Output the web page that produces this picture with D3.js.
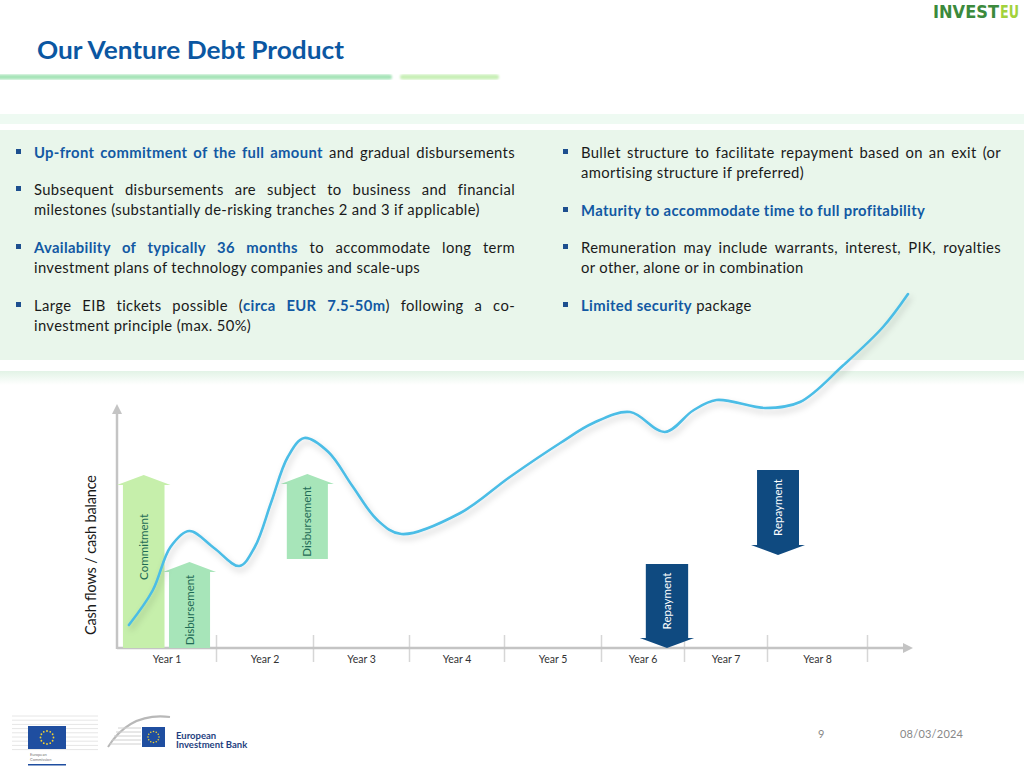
<!DOCTYPE html>
<html><head><meta charset="utf-8">
<script src="https://cdn.jsdelivr.net/npm/d3@7"></script>
<style>html,body{margin:0;padding:0;background:#fff;}svg{display:block;font-family:Lato,"Open Sans",sans-serif;}</style>
</head><body>
<script>
// ---------- data ----------
const title = "Our Venture Debt Product";
const yearLabels = ["Year 1","Year 2","Year 3","Year 4","Year 5","Year 6","Year 7","Year 8"];
const yearBoundaries = [1,2,3,4,5,6,7,8];
const yAxisLabel = "Cash flows / cash balance";

// cash balance curve (x in years, y in arbitrary units)
const curveYears  = [0.12,0.36,0.54,0.73,0.98,1.24,1.40,1.57,1.74,1.91,2.16,2.41,2.67,2.92,3.54,4.06,4.58,4.92,5.35,5.77,6.11,6.39,6.98,7.33,7.76,8.16,8.41];
const curveValues = [9.2, 23,  40.4,46.8,40,  32.8,40.4,58.4,76.4,84,  78.4,64.8,51.2,45.6,54,  68.4,82,  90,  94.4,86.4,95,  99.2,96,  98.4,113, 128.4,141.6];

// cash-flow arrows
const arrowLabels = ["Commitment","Disbursement","Disbursement","Repayment","Repayment"];
const arrowKinds  = ["commit","disb","disb","repay","repay"];
const arrowStart  = [0.06,0.525,1.73,5.54,6.88];
const arrowEnd    = [0.48,0.94,2.155,6.05,7.32];
const arrowFrom   = [0,0,35.6,33.6,71.2];
const arrowTo     = [69.2,34.4,69.6,0,37.2];

// bullet text: each bullet = lines, each line = segments [text, emphasised]
const leftBullets = [
  [[["Up-front commitment of the full amount",1],[" and gradual disbursements",0]]],
  [[["Subsequent disbursements are subject to business and financial",0]],
   [["milestones (substantially de-risking tranches 2 and 3 if applicable)",0]]],
  [[["Availability of typically 36 months",1],[" to accommodate long term",0]],
   [["investment plans of technology companies and scale-ups",0]]],
  [[["Large EIB tickets possible (",0],["circa EUR 7.5-50m",1],[") following a co-",0]],
   [["investment principle (max. 50%)",0]]]
];
const rightBullets = [
  [[["Bullet structure to facilitate repayment based on an exit (or",0]],
   [["amortising structure if preferred)",0]]],
  [[["Maturity to accommodate time to full profitability",1]]],
  [[["Remuneration may include warrants, interest, PIK, royalties",0]],
   [["or other, alone or in combination",0]]],
  [[["Limited security",1],[" package",0]]]
];
const pageNumber = "9";
const dateText = "08/03/2024";

// ---------- layout ----------
const W = 1024, H = 768;
const blue = "#1259a3", textCol = "#1a1a1a";
const svg = d3.select("body").append("svg").attr("width",W).attr("height",H);
const defs = svg.append("defs");
const f = defs.append("filter").attr("id","sh").attr("x","-10%").attr("y","-20%").attr("width","120%").attr("height","150%");
f.append("feDropShadow").attr("dx",2).attr("dy",4).attr("stdDeviation",3).attr("flood-color","#000").attr("flood-opacity",0.2);
const fb = defs.append("filter").attr("id","blur1");
fb.append("feGaussianBlur").attr("stdDeviation",0.8);
const grad = defs.append("linearGradient").attr("id","band2").attr("x1",0).attr("y1",0).attr("x2",0).attr("y2",1);
grad.append("stop").attr("offset","0%").attr("stop-color","#e2f3e6");
grad.append("stop").attr("offset","100%").attr("stop-color","#ffffff");
defs.append("marker").attr("id","axArrow").attr("viewBox","0 0 10 10").attr("refX",5).attr("refY",5)
  .attr("markerWidth",4).attr("markerHeight",4).attr("orient","auto")
  .append("path").attr("d","M0,0L10,5L0,10Z").attr("fill","#c4c4c4");

// header
svg.append("text").attr("x",37).attr("y",59).attr("fill","#0b57a2").attr("font-size",25).attr("font-weight",700)
  .attr("textLength",307).attr("lengthAdjust","spacingAndGlyphs").text(title);
svg.append("rect").attr("x",-5).attr("y",74.5).attr("width",397).attr("height",5).attr("rx",2.5).attr("fill","#a5e3b7").attr("filter","url(#blur1)");
svg.append("rect").attr("x",400).attr("y",74.5).attr("width",99).attr("height",5).attr("rx",2.5).attr("fill","#c8efb6").attr("filter","url(#blur1)");
svg.append("text").attr("x",933).attr("y",18).attr("font-size",17).attr("font-weight",900)
  .attr("font-family","'DejaVu Sans',sans-serif").attr("textLength",66).attr("lengthAdjust","spacingAndGlyphs")
  .attr("fill","#3c8a3c").text("INVEST");
svg.append("text").attr("x",1000).attr("y",18).attr("font-size",17).attr("font-weight",900)
  .attr("font-family","'DejaVu Sans',sans-serif").attr("textLength",19).attr("lengthAdjust","spacingAndGlyphs")
  .attr("fill","#a2d23c").text("EU");

// panels
svg.append("rect").attr("x",0).attr("y",114).attr("width",W).attr("height",10).attr("fill","#eefaf2");
svg.append("rect").attr("x",0).attr("y",130).attr("width",W).attr("height",230).attr("fill","#e9f6eb");
svg.append("rect").attr("x",0).attr("y",371).attr("width",W).attr("height",14).attr("fill","url(#band2)");

// bullets (justified lines are stretched by word spacing)
const leftLayout  = {x:34, bx:16, right:515, baselines:[[158],[195,215],[253,273],[311,331]], just:[[1],[1,0],[1,0],[1,0]]};
const rightLayout = {x:581, bx:563, right:1001, baselines:[[158,178],[216],[253,273],[311]], just:[[1,0],[0],[1,0],[0]]};
function drawBullets(bullets, L){
  bullets.forEach((b,i)=>{
    svg.append("rect").attr("x",L.bx).attr("y",L.baselines[i][0]-9).attr("width",5).attr("height",5).attr("fill","#1d4f8f");
    b.forEach((line,j)=>{
      const t = svg.append("text").attr("x",L.x).attr("y",L.baselines[i][j]).attr("font-size",14.8)
        .attr("letter-spacing",0.35).attr("fill",textCol);
      line.forEach(seg=>{
        t.append("tspan").attr("fill",seg[1]?blue:textCol).attr("font-weight",seg[1]?700:400).text(seg[0]);
      });
      if (L.just[i][j]) {
        const len = t.node().getComputedTextLength();
        const full = line.map(s=>s[0]).join("");
        const spaces = (full.match(/ /g)||[]).length;
        const extra = (L.right - L.x) - len;
        if (spaces>0 && extra>0) t.attr("word-spacing", extra/spaces);
      }
    });
  });
}
drawBullets(leftBullets, leftLayout);
drawBullets(rightBullets, rightLayout);

// ---------- chart ----------
const x = d3.scaleLinear().domain([0,1,2,3,4,5,6,7,8]).range([117,216,313,409,504,601,684,767,867]);
const y = d3.scaleLinear().domain([0,100]).range([648,398]);
const axisCol = "#c4c4c4";

// separators via axis
const sepAxis = d3.axisBottom(x).tickValues(yearBoundaries).tickFormat("").tickSizeOuter(0).tickSize(14);
const gSep = svg.append("g").attr("transform",`translate(0,${y(0)})`).call(sepAxis);
gSep.select(".domain").remove();
gSep.selectAll(".tick line").attr("y1",-13).attr("stroke","#d6d6d6").attr("stroke-width",1.5);

// year labels via axis at interval centers
const centers = yearBoundaries.map(d=>d-0.5);
const labAxis = d3.axisBottom(x).tickValues(centers).tickFormat((d,i)=>yearLabels[i]).tickSize(0).tickPadding(8);
const gLab = svg.append("g").attr("transform",`translate(0,${y(0)})`).call(labAxis);
gLab.select(".domain").remove();
gLab.selectAll("text").attr("font-family","Lato,sans-serif").attr("font-size",10.5).attr("fill","#333");

// axis lines
svg.append("line").attr("x1",x(0)).attr("x2",908).attr("y1",y(0)).attr("y2",y(0))
  .attr("stroke",axisCol).attr("stroke-width",2.5).attr("marker-end","url(#axArrow)");
svg.append("line").attr("x1",x(0)).attr("x2",x(0)).attr("y1",y(0)+1).attr("y2",409)
  .attr("stroke",axisCol).attr("stroke-width",2.5).attr("marker-end","url(#axArrow)");

svg.append("text").attr("transform",`translate(96,555) rotate(-90)`).attr("text-anchor","middle")
  .attr("font-size",14.5).attr("fill",textCol).attr("textLength",160).attr("lengthAdjust","spacing").text(yAxisLabel);

// arrows
const fills = {commit:"#c6efab", disb:"#a7e5b9", repay:"#0f4a80"};
const txtFill = {commit:"#1f6b55", disb:"#1f6b55", repay:"#ffffff"};
const headLen = 10, overhang = 6;
arrowLabels.forEach((lab,i)=>{
  const x0 = x(arrowStart[i]), x1 = x(arrowEnd[i]);
  const tail = y(arrowFrom[i]), tip = y(arrowTo[i]);
  const dir = tip < tail ? -1 : 1; // -1 up
  const hb = tip - dir*headLen;
  const cx = (x0+x1)/2;
  const p = d3.path();
  p.moveTo(x0,tail); p.lineTo(x0,hb); p.lineTo(x0-overhang,hb); p.lineTo(cx,tip);
  p.lineTo(x1+overhang,hb); p.lineTo(x1,hb); p.lineTo(x1,tail); p.closePath();
  svg.append("path").attr("d",p.toString()).attr("fill",fills[arrowKinds[i]]);
  const cy = arrowKinds[i]==="commit" ? hb + (tail-hb)*0.38 : (tail+hb)/2;
  svg.append("text").attr("transform",`translate(${cx+4},${cy}) rotate(-90)`).attr("text-anchor","middle")
    .attr("font-size",11.5).attr("fill",txtFill[arrowKinds[i]]).text(lab);
});

// cash balance curve
const line = d3.line().x((d,i)=>x(curveYears[i])).y(d=>y(d)).curve(d3.curveCatmullRom.alpha(0.5));
svg.append("path").attr("d",line(curveValues)).attr("fill","none").attr("stroke","#4cbde6")
  .attr("stroke-width",2.6).attr("stroke-linecap","round").attr("filter","url(#sh)");

// ---------- footer ----------
const foot = svg.append("g");
for (let k=0;k<9;k++){
  foot.append("line").attr("x1",12).attr("x2",98).attr("y1",716+k*4.2).attr("y2",716+k*4.2).attr("stroke","#e6e6e6").attr("stroke-width",1);
}
foot.append("rect").attr("x",28).attr("y",726).attr("width",38).attr("height",23).attr("fill","#1f4ea0");
function stars(cx,cy,r,sz){
  for(let k=0;k<12;k++){const a=k*Math.PI/6;
    foot.append("circle").attr("cx",cx+r*Math.cos(a)).attr("cy",cy+r*Math.sin(a)).attr("r",sz).attr("fill","#f2d230");}
}
stars(47,737.5,6.5,0.9);
foot.append("text").attr("x",30).attr("y",756).attr("font-size",4).attr("fill","#777").text("European");
foot.append("text").attr("x",30).attr("y",761).attr("font-size",4).attr("fill","#777").text("Commission");
foot.append("rect").attr("x",28).attr("y",764).attr("width",38).attr("height",1.5).attr("fill","#1f4ea0");
foot.append("path").attr("d","M108,747 Q130,712 170,717").attr("fill","none").attr("stroke","#b8b8b8").attr("stroke-width",2);
for (let k=0;k<5;k++){
  foot.append("line").attr("x1",118+k*-2).attr("x2",141).attr("y1",728+k*4).attr("y2",728+k*4).attr("stroke","#d0d0d0").attr("stroke-width",1);
}
foot.append("rect").attr("x",142).attr("y",727).attr("width",23).attr("height",20).attr("fill","#1f4ea0");
stars(153.5,737,5.5,0.8);
foot.append("text").attr("x",176).attr("y",739).attr("font-size",9.5).attr("font-weight",700).attr("fill","#1f3f80").text("European");
foot.append("text").attr("x",176).attr("y",748).attr("font-size",9.5).attr("font-weight",700).attr("fill","#1f3f80").text("Investment Bank");

svg.append("text").attr("x",818).attr("y",738).attr("font-size",11).attr("fill","#888").text(pageNumber);
svg.append("text").attr("x",900).attr("y",738).attr("font-size",11).attr("fill","#888").attr("textLength",63).text(dateText);
</script>
</body></html>
